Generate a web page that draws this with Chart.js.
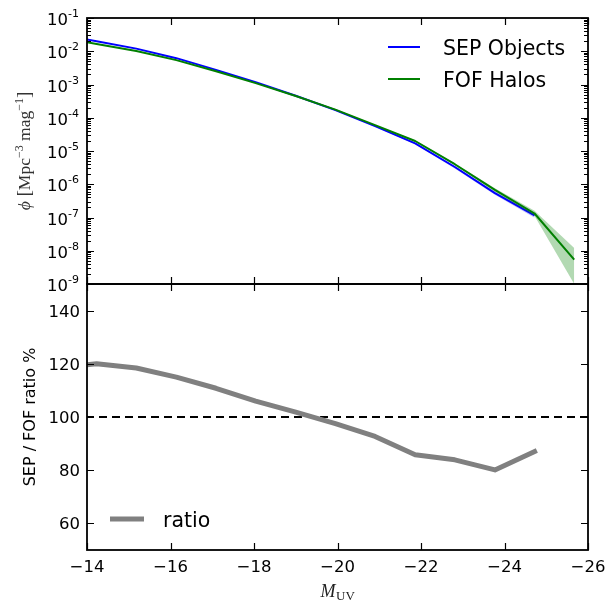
<!DOCTYPE html>
<html>
<head>
<meta charset="utf-8">
<script src="https://cdn.jsdelivr.net/npm/chart.js@4/dist/chart.umd.min.js"></script>
<style>
  html, body { margin: 0; padding: 0; background: #fff; }
  #wrap { position: relative; width: 613px; height: 601px; }
  canvas { position: absolute; left: 0; top: 0; }
</style>
</head>
<body>
<div id="wrap">
  <canvas id="lf" width="613" height="601"></canvas>
  <canvas id="ratio" width="613" height="601"></canvas>
</div>
<script>
// UV magnitude bin centres
const magBins = [-13.27, -14.23, -15.18, -16.14, -17.09, -18.04, -19.00, -19.95, -20.90, -21.86, -22.81, -23.77, -24.72, -25.67];

// Luminosity function, phi [Mpc^-3 mag^-1]
const sepPhi = [3.24e-2, 2.00e-2, 1.20e-2, 6.20e-3, 2.75e-3, 1.17e-3, 4.60e-4, 1.70e-4, 5.60e-5, 1.70e-5, 3.30e-6, 5.40e-7, 1.15e-7];
const sepHi  = [3.27e-2, 2.02e-2, 1.21e-2, 6.26e-3, 2.78e-3, 1.19e-3, 4.70e-4, 1.75e-4, 5.80e-5, 1.80e-5, 3.60e-6, 6.10e-7, 1.30e-7];
const sepLo  = [3.21e-2, 1.98e-2, 1.19e-2, 6.14e-3, 2.72e-3, 1.15e-3, 4.50e-4, 1.65e-4, 5.40e-5, 1.60e-5, 3.00e-6, 4.80e-7, 0.98e-7];

const fofPhi = [2.75e-2, 1.66e-2, 1.02e-2, 5.40e-3, 2.50e-3, 1.10e-3, 4.50e-4, 1.75e-4, 6.00e-5, 2.00e-5, 4.00e-6, 6.80e-7, 1.32e-7, 5.40e-9];
const fofHi  = [2.78e-2, 1.68e-2, 1.03e-2, 5.45e-3, 2.53e-3, 1.12e-3, 4.60e-4, 1.80e-4, 6.20e-5, 2.10e-5, 4.30e-6, 7.60e-7, 1.60e-7, 1.20e-8];
const fofLo  = [2.72e-2, 1.64e-2, 1.01e-2, 5.35e-3, 2.47e-3, 1.08e-3, 4.40e-4, 1.70e-4, 5.80e-5, 1.90e-5, 3.70e-6, 6.00e-7, 1.10e-7, 1.00e-9];

// SEP / FOF ratio in percent
const ratioPct = [118.5, 120.0, 118.4, 115.0, 110.8, 106.0, 101.8, 97.5, 92.7, 85.8, 83.9, 80.1, 87.0];
const unityLevel = 100;

// Axis ranges and ticks
const magRange = [-26, -14];
const magTicks = [-14, -16, -18, -20, -22, -24, -26];
const phiExps = [-1, -2, -3, -4, -5, -6, -7, -8, -9];
const ratioRange = [50, 150];
const ratioTicks = [60, 80, 100, 120, 140];

const SANS = '"DejaVu Sans", sans-serif';
const SERIF = '"Liberation Serif", "DejaVu Serif", serif';

const pts = (ys) => ys.map((y, i) => ({ x: magBins[i], y }));

function drawFrameTicks(ctx, a, xs, ys, yMajor, yMinor) {
  ctx.save();
  ctx.strokeStyle = '#000';
  ctx.lineWidth = 1.2;
  ctx.beginPath();
  magTicks.forEach(v => {
    const px = Math.round(xs.getPixelForValue(v)) + 0.5;
    ctx.moveTo(px, a.top); ctx.lineTo(px, a.top + 7);
    ctx.moveTo(px, a.bottom); ctx.lineTo(px, a.bottom - 7);
  });
  yMajor.forEach(v => {
    const py = Math.round(ys.getPixelForValue(v)) + 0.5;
    ctx.moveTo(a.left, py); ctx.lineTo(a.left + 7, py);
    ctx.moveTo(a.right, py); ctx.lineTo(a.right - 7, py);
  });
  yMinor.forEach(v => {
    const py = Math.round(ys.getPixelForValue(v)) + 0.5;
    ctx.moveTo(a.left, py); ctx.lineTo(a.left + 4, py);
    ctx.moveTo(a.right, py); ctx.lineTo(a.right - 4, py);
  });
  ctx.stroke();
  ctx.lineWidth = 1.8;
  ctx.strokeRect(a.left, a.top, a.right - a.left, a.bottom - a.top);
  ctx.restore();
}

// Luminosity-function panel decorations
const lfDecor = {
  id: 'lfDecor',
  afterDatasetsDraw(chart) {
    const { ctx, chartArea: a, scales } = chart;
    const xs = scales.x, ys = scales.y;
    const major = phiExps.map(e => Math.pow(10, e));
    const minor = [];
    phiExps.slice(1).forEach(e => { for (let k = 2; k <= 9; k++) minor.push(k * Math.pow(10, e)); });
    drawFrameTicks(ctx, a, xs, ys, major, minor);

    ctx.save();
    ctx.fillStyle = '#000';
    // y tick labels 10^e
    phiExps.forEach(e => {
      const py = ys.getPixelForValue(Math.pow(10, e));
      const exp = String(e);
      ctx.font = '11px ' + SANS;
      const ew = ctx.measureText(exp).width;
      ctx.textAlign = 'left'; ctx.textBaseline = 'alphabetic';
      ctx.fillText(exp, 79 - ew, py - 1);
      ctx.font = '16.5px ' + SANS;
      ctx.textAlign = 'right';
      ctx.fillText('10', 79 - ew, py + 7);
    });

    // legend
    const legendRows = [
      { ds: chart.data.datasets[2], y: 47 },
      { ds: chart.data.datasets[5], y: 79 }
    ];
    legendRows.forEach(r => {
      ctx.strokeStyle = r.ds.borderColor; ctx.lineWidth = 2;
      ctx.beginPath(); ctx.moveTo(388, r.y); ctx.lineTo(420, r.y); ctx.stroke();
      ctx.font = '20.5px ' + SANS; ctx.textAlign = 'left'; ctx.textBaseline = 'alphabetic';
      ctx.fillStyle = '#000';
      ctx.fillText(r.ds.label, 443, r.y + 7.5);
    });

    // y axis title: phi [Mpc^-3 mag^-1]
    const parts = [
      { t: '\u03D5', f: 'italic 17.5px ' + SERIF, dy: 0 },
      { t: ' [', f: '19px ' + SERIF, dy: 0 },
      { t: 'Mpc', f: '17.5px ' + SERIF, dy: 0 },
      { t: '\u22123', f: '12px ' + SERIF, dy: -7 },
      { t: ' mag', f: '17.5px ' + SERIF, dy: 0 },
      { t: '\u22121', f: '12px ' + SERIF, dy: -7 },
      { t: ']', f: '19px ' + SERIF, dy: 0 }
    ];
    let total = 0;
    parts.forEach(p => { ctx.font = p.f; p.w = ctx.measureText(p.t).width; total += p.w; });
    ctx.translate(30, (a.top + a.bottom) / 2);
    ctx.rotate(-Math.PI / 2);
    ctx.fillStyle = '#333';
    let cx = -total / 2;
    parts.forEach(p => {
      ctx.font = p.f; ctx.textAlign = 'left'; ctx.textBaseline = 'alphabetic';
      ctx.fillText(p.t, cx, p.dy);
      cx += p.w;
    });
    ctx.restore();
  }
};

// Ratio panel decorations
const ratioDecor = {
  id: 'ratioDecor',
  afterDatasetsDraw(chart) {
    const { ctx, chartArea: a, scales } = chart;
    const xs = scales.x, ys = scales.y;
    drawFrameTicks(ctx, a, xs, ys, ratioTicks, []);

    ctx.save();
    ctx.fillStyle = '#000';
    ctx.font = '16.5px ' + SANS;
    ctx.textBaseline = 'alphabetic';
    ctx.textAlign = 'right';
    ratioTicks.forEach(v => ctx.fillText(String(v), 80, ys.getPixelForValue(v) + 6));
    ctx.textAlign = 'center';
    magTicks.forEach(v => ctx.fillText(String(v).replace('-', '\u2212'), xs.getPixelForValue(v), 571.5));

    // legend
    const ds = chart.data.datasets[0];
    ctx.strokeStyle = ds.borderColor; ctx.lineWidth = 5; ctx.lineCap = 'butt';
    ctx.beginPath(); ctx.moveTo(110, 519); ctx.lineTo(144, 519); ctx.stroke();
    ctx.font = '20.5px ' + SANS; ctx.textAlign = 'left';
    ctx.fillText(ds.label, 163, 527);

    // x axis title: M_UV
    ctx.font = 'italic 18px ' + SERIF;
    const mw = ctx.measureText('M').width;
    ctx.font = '13px ' + SERIF;
    const sw = ctx.measureText('UV').width;
    const x0 = (a.left + a.right) / 2 - (mw + sw) / 2;
    ctx.fillStyle = '#222';
    ctx.font = 'italic 18px ' + SERIF;
    ctx.fillText('M', x0, 597);
    ctx.font = '13px ' + SERIF;
    ctx.fillText('UV', x0 + mw + 0.5, 600);

    // y axis title
    ctx.fillStyle = '#000';
    ctx.font = '16px ' + SANS;
    ctx.translate(35, (a.top + a.bottom) / 2);
    ctx.rotate(-Math.PI / 2);
    ctx.textAlign = 'center';
    ctx.fillText('SEP / FOF ratio %', 0, 0);
    ctx.restore();
  }
};

const baseOptions = (padding, yScale) => ({
  responsive: false,
  animation: false,
  devicePixelRatio: 1,
  layout: { padding },
  plugins: { legend: { display: false }, tooltip: { enabled: false } },
  elements: { point: { radius: 0 }, line: { tension: 0 } },
  scales: {
    x: { type: 'linear', min: magRange[0], max: magRange[1], reverse: true, display: false },
    y: Object.assign({ display: false }, yScale)
  }
});

const noEdge = { borderColor: 'rgba(0,0,0,0)', borderWidth: 0, pointRadius: 0 };

new Chart(document.getElementById('lf'), {
  type: 'line',
  data: {
    datasets: [
      Object.assign({ label: 'SEP low', data: pts(sepLo), fill: false, order: 5 }, noEdge),
      Object.assign({ label: 'SEP high', data: pts(sepHi), fill: '-1', backgroundColor: 'rgba(0,0,255,0.25)', order: 4 }, noEdge),
      { label: 'SEP Objects', data: pts(sepPhi), borderColor: '#0000ff', borderWidth: 2, fill: false, order: 3, borderJoinStyle: 'round' },
      Object.assign({ label: 'FOF low', data: pts(fofLo), fill: false, order: 2 }, noEdge),
      Object.assign({ label: 'FOF high', data: pts(fofHi), fill: '-1', backgroundColor: 'rgba(0,128,0,0.3)', order: 1 }, noEdge),
      { label: 'FOF Halos', data: pts(fofPhi), borderColor: '#008000', borderWidth: 2, fill: false, order: 0, borderJoinStyle: 'round' }
    ]
  },
  options: baseOptions({ left: 87, right: 25, top: 18, bottom: 317 },
    { type: 'logarithmic', min: Math.pow(10, phiExps[phiExps.length - 1]), max: Math.pow(10, phiExps[0]) }),
  plugins: [lfDecor]
});

new Chart(document.getElementById('ratio'), {
  type: 'line',
  data: {
    datasets: [
      { label: 'ratio', data: pts(ratioPct), borderColor: '#808080', borderWidth: 5, fill: false, order: 0,
        borderJoinStyle: 'round', borderCapStyle: 'square' },
      { label: 'unity', data: magRange.map(x => ({ x, y: unityLevel })), borderColor: '#000', borderWidth: 2,
        borderDash: [8, 5], fill: false, order: 1 }
    ]
  },
  options: baseOptions({ left: 87, right: 25, top: 284, bottom: 51 },
    { type: 'linear', min: ratioRange[0], max: ratioRange[1] }),
  plugins: [ratioDecor]
});
</script>
</body>
</html>
